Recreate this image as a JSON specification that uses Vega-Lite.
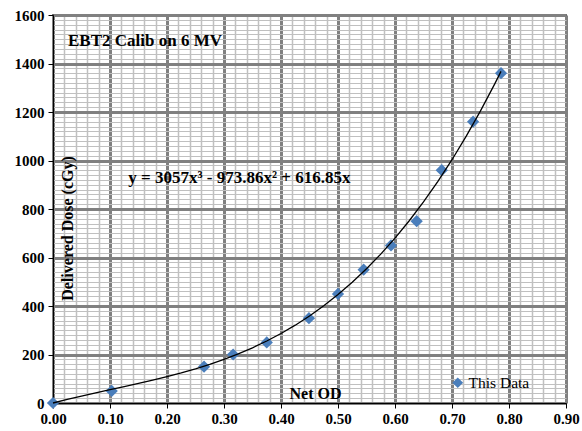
{
  "$schema": "https://vega.github.io/schema/vega-lite/v6.json",
  "width": 513,
  "height": 388,
  "autosize": {"type": "none"},
  "padding": {"left": 53, "top": 15, "right": 16, "bottom": 28},
  "background": "white",
  "config": {
    "view": {"stroke": "#000", "strokeWidth": 1.5},
    "font": "Liberation Serif",
    "axis": {"labelFont": "Liberation Serif", "labelFontWeight": "bold", "labelFontSize": 15, "labelColor": "#000", "titleFont": "Liberation Serif", "titleFontWeight": "bold", "titleColor": "#000"},
    "legend": {"labelFont": "Liberation Serif", "labelFontWeight": "normal", "labelFontSize": 15, "labelColor": "#000"}
  },
  "datasets": {
    "points": [
      {"od": 0, "dose": 0, "series": "This Data"},
      {"od": 0.103, "dose": 50, "series": "This Data"},
      {"od": 0.265, "dose": 150, "series": "This Data"},
      {"od": 0.316, "dose": 200, "series": "This Data"},
      {"od": 0.375, "dose": 250, "series": "This Data"},
      {"od": 0.449, "dose": 350, "series": "This Data"},
      {"od": 0.5, "dose": 450, "series": "This Data"},
      {"od": 0.545, "dose": 550, "series": "This Data"},
      {"od": 0.593, "dose": 650, "series": "This Data"},
      {"od": 0.638, "dose": 750, "series": "This Data"},
      {"od": 0.682, "dose": 960, "series": "This Data"},
      {"od": 0.737, "dose": 1160, "series": "This Data"},
      {"od": 0.786, "dose": 1360, "series": "This Data"}
    ],
    "curve": [
      {"x": 0, "y": 0}, {"x": 0.025, "y": 14.9}, {"x": 0.05, "y": 28.8}, {"x": 0.075, "y": 42.1},
      {"x": 0.1, "y": 55.0}, {"x": 0.125, "y": 67.9}, {"x": 0.15, "y": 80.9}, {"x": 0.175, "y": 94.5},
      {"x": 0.2, "y": 108.9}, {"x": 0.225, "y": 124.3}, {"x": 0.25, "y": 141.1}, {"x": 0.275, "y": 159.6},
      {"x": 0.3, "y": 180.0}, {"x": 0.325, "y": 202.6}, {"x": 0.35, "y": 227.7}, {"x": 0.375, "y": 255.6},
      {"x": 0.4, "y": 286.6}, {"x": 0.425, "y": 320.9}, {"x": 0.45, "y": 358.9}, {"x": 0.475, "y": 400.9},
      {"x": 0.5, "y": 447.1}, {"x": 0.525, "y": 497.8}, {"x": 0.55, "y": 553.3}, {"x": 0.575, "y": 613.9},
      {"x": 0.6, "y": 679.8}, {"x": 0.625, "y": 751.5}, {"x": 0.65, "y": 829.0}, {"x": 0.675, "y": 912.8},
      {"x": 0.7, "y": 1003.2}, {"x": 0.725, "y": 1100.3}, {"x": 0.75, "y": 1204.5}, {"x": 0.775, "y": 1316.1},
      {"x": 0.786, "y": 1367.6}
    ],
    "title": [{"x": 0.0263, "y": 1491, "text": "EBT2 Calib on 6 MV"}],
    "equation": [{"x": 0.1321, "y": 927, "text": "y = 3057x³ - 973.86x² + 616.85x"}]
  },
  "layer": [
    {
      "data": {"name": "points"},
      "mark": {"type": "point", "shape": "diamond", "filled": true, "size": 150, "color": "#4a7ebb", "opacity": 1},
      "encoding": {
        "x": {
          "field": "od", "type": "quantitative",
          "scale": {"domain": [0, 0.9], "nice": false, "zero": false},
          "axis": {
            "orient": "top", "title": null, "labels": false, "ticks": false, "domain": false,
            "grid": true, "gridColor": "#c0c0c0", "gridWidth": 1.5, "gridOpacity": 1,
            "values": [0.02, 0.04, 0.06, 0.08, 0.12, 0.14, 0.16, 0.18, 0.22, 0.24, 0.26, 0.28, 0.32, 0.34, 0.36, 0.38, 0.42, 0.44, 0.46, 0.48, 0.52, 0.54, 0.56, 0.58, 0.62, 0.64, 0.66, 0.68, 0.72, 0.74, 0.76, 0.78, 0.82, 0.84, 0.86, 0.88]
          }
        },
        "y": {
          "field": "dose", "type": "quantitative",
          "scale": {"domain": [0, 1600], "nice": false},
          "axis": {
            "orient": "right", "title": null, "labels": false, "ticks": false, "domain": false,
            "grid": true, "gridColor": "#c0c0c0", "gridWidth": 1, "gridOpacity": 1,
            "values": [20, 40, 60, 80, 100, 120, 140, 160, 180, 220, 240, 260, 280, 300, 320, 340, 360, 380, 420, 440, 460, 480, 500, 520, 540, 560, 580, 620, 640, 660, 680, 700, 720, 740, 760, 780, 820, 840, 860, 880, 900, 920, 940, 960, 980, 1020, 1040, 1060, 1080, 1100, 1120, 1140, 1160, 1180, 1220, 1240, 1260, 1280, 1300, 1320, 1340, 1360, 1380, 1420, 1440, 1460, 1480, 1500, 1520, 1540, 1560, 1580]
          }
        },
        "shape": {
          "field": "series", "type": "nominal",
          "scale": {"range": ["diamond"]},
          "legend": {
            "orient": "none", "legendX": 397, "legendY": 360, "title": null, "padding": 0,
            "labelFont": "Liberation Serif", "labelFontWeight": "normal", "labelFontSize": 15.5, "labelColor": "#000", "labelOffset": 3,
            "symbolFillColor": "#4a7ebb", "symbolStrokeColor": "#4a7ebb", "symbolStrokeWidth": 0, "symbolSize": 115
          }
        }
      }
    },
    {
      "data": {"name": "curve"},
      "mark": {"type": "line", "color": "#000", "strokeWidth": 1.3},
      "encoding": {
        "x": {
          "field": "x", "type": "quantitative",
          "scale": {"domain": [0, 0.9], "nice": false, "zero": false},
          "axis": {
            "orient": "bottom",
            "values": [0, 0.1, 0.2, 0.3, 0.4, 0.5, 0.6, 0.7, 0.8, 0.9],
            "format": ".2f",
            "grid": true, "gridColor": "#808080", "gridWidth": 3, "gridOpacity": 1,
            "domainColor": "#000", "domainWidth": 1,
            "tickColor": "#000", "tickSize": 5, "tickWidth": 1,
            "labelFont": "Liberation Serif", "labelFontWeight": "bold", "labelFontSize": 15, "labelColor": "#000",
            "labelPadding": 3, "labelFlush": false, "labelOverlap": false,
            "title": "Net OD", "titleFont": "Liberation Serif", "titleFontSize": 16, "titleFontWeight": "bold", "titleColor": "#000",
            "titleX": 262, "titleY": -10, "titleBaseline": "middle", "titleAlign": "center"
          }
        },
        "y": {
          "field": "y", "type": "quantitative",
          "scale": {"domain": [0, 1600], "nice": false},
          "axis": {
            "orient": "left",
            "values": [0, 200, 400, 600, 800, 1000, 1200, 1400, 1600],
            "format": "d",
            "grid": true, "gridColor": "#808080", "gridWidth": 3, "gridOpacity": 1,
            "domainColor": "#000", "domainWidth": 1,
            "tickColor": "#000", "tickSize": 5, "tickWidth": 1,
            "labelFont": "Liberation Serif", "labelFontWeight": "bold", "labelFontSize": 15, "labelColor": "#000",
            "labelPadding": 4, "labelOverlap": false,
            "title": "Delivered Dose (cGy)", "titleFont": "Liberation Serif", "titleFontSize": 16, "titleFontWeight": "bold", "titleColor": "#000",
            "titleX": 14, "titleY": 213, "titleAngle": -90, "titleBaseline": "middle", "titleAlign": "center"
          }
        }
      }
    },
    {
      "data": {"name": "title"},
      "mark": {"type": "text", "font": "Liberation Serif", "fontSize": 17, "fontWeight": "bold", "color": "#000", "align": "left", "baseline": "middle"},
      "encoding": {
        "x": {"field": "x", "type": "quantitative", "axis": null},
        "y": {"field": "y", "type": "quantitative", "axis": null},
        "text": {"field": "text"}
      }
    },
    {
      "data": {"name": "equation"},
      "mark": {"type": "text", "font": "Liberation Serif", "fontSize": 17, "fontWeight": "bold", "color": "#000", "align": "left", "baseline": "middle"},
      "encoding": {
        "x": {"field": "x", "type": "quantitative", "axis": null},
        "y": {"field": "y", "type": "quantitative", "axis": null},
        "text": {"field": "text"}
      }
    }
  ],
  "resolve": {"axis": {"x": "independent", "y": "independent"}}
}
